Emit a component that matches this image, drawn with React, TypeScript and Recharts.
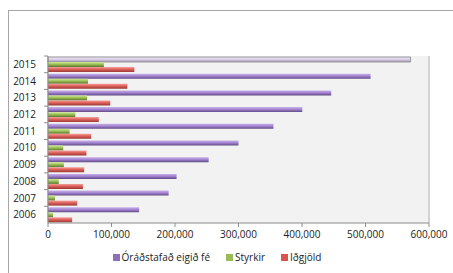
import React from 'react';
import { BarChart, Bar, XAxis, YAxis, CartesianGrid, Legend, Cell } from 'recharts';

const years = ['2006', '2007', '2008', '2009', '2010', '2011', '2012', '2013', '2014', '2015'];
const eigidFe = [143500, 190000, 202500, 253000, 300000, 355000, 400500, 446000, 508000, 571000];
const styrkir = [8000, 11000, 17000, 25000, 24000, 34000, 43000, 61500, 63000, 88000];
const idgjold = [38000, 46000, 55000, 57000, 60500, 68000, 80000, 98000, 125000, 136000];
const xTicks = [0, 100000, 200000, 300000, 400000, 500000, 600000];

const data = years.map((y, i) => ({
  year: y,
  eigidFe: eigidFe[i],
  styrkir: styrkir[i],
  idgjold: idgjold[i],
}));

const FONT = '"Open Sans", "Noto Sans", sans-serif';
const fmt = (v: number) => v.toLocaleString('en-US');

const legendItems = [
  { label: 'Óráðstafað eigið fé', color: '#8d70b8' },
  { label: 'Styrkir', color: '#9bbb59' },
  { label: 'Iðgjöld', color: '#d9534f' },
];

const LegendContent = () => (
  <div style={{ display: 'flex', justifyContent: 'center', fontFamily: FONT, fontSize: 10, color: '#222', paddingLeft: 12, paddingTop: 7 }}>
    {legendItems.map((it) => (
      <div key={it.label} style={{ display: 'flex', alignItems: 'center', marginRight: 16 }}>
        <span style={{ display: 'inline-block', width: 7, height: 7, background: it.color, marginRight: 2 }} />
        <span>{it.label}</span>
      </div>
    ))}
  </div>
);

const YTick = (props: any) => {
  const { x, y, payload } = props;
  const half = 167 / years.length / 2;
  return (
    <g>
      <line x1={x + 8} x2={x + 12} y1={y - half} y2={y - half} stroke="#8c8c8c" />
      <text x={x} y={y} dy="0.355em" textAnchor="end" fontSize={10} fill="#222" fontFamily={FONT}>
        {payload.value}
      </text>
    </g>
  );
};

export default function App() {
  return (
    <div style={{ position: 'absolute', top: 10, left: 8, width: 445, height: 263, borderLeft: '1px solid #a6a6a6', borderTop: '1px solid #a6a6a6', boxSizing: 'border-box', background: '#fff', overflow: 'hidden' }}>
      <BarChart
        width={444}
        height={262}
        data={data}
        layout="vertical"
        margin={{ top: 45, right: 24, bottom: 10, left: 0 }}
        barCategoryGap={1}
        barGap={0}
      >
        <defs>
          <linearGradient id="gPurple" x1="0" y1="0" x2="0" y2="1">
            <stop offset="0%" stopColor="#c7b2e6" />
            <stop offset="45%" stopColor="#a584d4" />
            <stop offset="100%" stopColor="#5f4a82" />
          </linearGradient>
          <linearGradient id="gPurpleLight" x1="0" y1="0" x2="0" y2="1">
            <stop offset="0%" stopColor="#f0eaf7" />
            <stop offset="50%" stopColor="#d9cde9" />
            <stop offset="100%" stopColor="#9c92aa" />
          </linearGradient>
          <linearGradient id="gGreen" x1="0" y1="0" x2="0" y2="1">
            <stop offset="0%" stopColor="#d4e89c" />
            <stop offset="45%" stopColor="#9cc255" />
            <stop offset="100%" stopColor="#5b7430" />
          </linearGradient>
          <linearGradient id="gRed" x1="0" y1="0" x2="0" y2="1">
            <stop offset="0%" stopColor="#f2a19c" />
            <stop offset="45%" stopColor="#e0605a" />
            <stop offset="100%" stopColor="#9a3a36" />
          </linearGradient>
        </defs>
        <rect x={39} y={45} width={380} height={167} fill="#f2f2f2" />
        <CartesianGrid horizontal={false} vertical stroke="#a6a6a6" strokeWidth={1} />
        <XAxis
          type="number"
          domain={[0, 600000]}
          ticks={xTicks}
          tickFormatter={fmt}
          interval={0}
          height={20}
          tick={{ fontSize: 10, fill: '#222', fontFamily: FONT }}
          stroke="#8c8c8c"
          tickSize={4}
          tickMargin={4}
        />
        <YAxis
          type="category"
          dataKey="year"
          reversed
          width={39}
          interval={0}
          tickLine={false}
          tick={<YTick />}
          stroke="#8c8c8c"
          tickMargin={6}
        />
        <Legend verticalAlign="bottom" height={20} content={<LegendContent />} />
        <Bar dataKey="eigidFe" name="Óráðstafað eigið fé" fill="url(#gPurple)" isAnimationActive={false}>
          {data.map((d) => (
            <Cell key={d.year} fill={d.year === '2015' ? 'url(#gPurpleLight)' : 'url(#gPurple)'} stroke={d.year === '2015' ? '#9a9a9a' : 'none'} />
          ))}
        </Bar>
        <Bar dataKey="styrkir" name="Styrkir" fill="url(#gGreen)" isAnimationActive={false} />
        <Bar dataKey="idgjold" name="Iðgjöld" fill="url(#gRed)" isAnimationActive={false} />
      </BarChart>
    </div>
  );
}
